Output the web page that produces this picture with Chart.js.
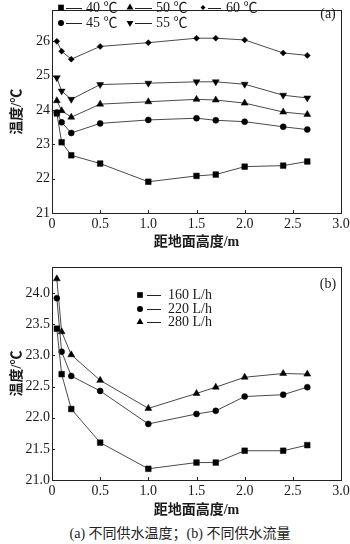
<!DOCTYPE html>
<html><head><meta charset="utf-8">
<script src="https://cdn.jsdelivr.net/npm/chart.js@4/dist/chart.umd.min.js"></script>
<style>
html,body{margin:0;padding:0;background:#fff;width:350px;height:544px;overflow:hidden;position:relative;}
#wa{position:absolute;left:0;top:0;width:350px;height:251px;}
#wb{position:absolute;left:0;top:255px;width:350px;height:264px;}
#cap{position:absolute;left:0;top:522px;width:360px;text-align:center;font:14px 'Liberation Serif','Noto Sans CJK SC';color:#222;white-space:nowrap;}
</style></head>
<body>
<div id="wa"><canvas id="ca"></canvas></div>
<div id="wb"><canvas id="cb"></canvas></div>
<div id="cap">(a) 不同供水温度；(b) 不同供水流量</div>
<script>
// ---- data ----
const X_HEIGHT = [0.05, 0.1, 0.2, 0.5, 1.0, 1.5, 1.7, 2.0, 2.4, 2.65];
const LABELS_A = ['40 ℃', '45 ℃', '50 ℃', '55 ℃', '60 ℃'];
const T40 = [23.90, 23.06, 22.68, 22.44, 21.91, 22.08, 22.12, 22.35, 22.38, 22.50];
const T45 = [23.93, 23.64, 23.33, 23.61, 23.71, 23.76, 23.70, 23.66, 23.51, 23.43];
const T50 = [24.27, 23.98, 23.79, 24.17, 24.24, 24.31, 24.29, 24.20, 23.94, 23.87];
const T55 = [24.94, 24.55, 24.31, 24.74, 24.78, 24.82, 24.82, 24.75, 24.43, 24.35];
const T60 = [26.00, 25.71, 25.48, 25.85, 25.96, 26.09, 26.09, 26.04, 25.66, 25.59];
const LABELS_B = ['160 L/h', '220 L/h', '280 L/h'];
const F160 = [23.43, 22.70, 22.14, 21.60, 21.18, 21.28, 21.28, 21.47, 21.47, 21.56];
const F220 = [23.92, 23.06, 22.67, 22.43, 21.90, 22.06, 22.11, 22.34, 22.37, 22.49];
const F280 = [24.23, 23.38, 23.01, 22.60, 22.15, 22.39, 22.49, 22.65, 22.71, 22.70];
const X_TICKS = [0, 0.5, 1.0, 1.5, 2.0, 2.5, 3.0];
const Y_TICKS_A = [21, 22, 23, 24, 25, 26];
const Y_TICKS_B = [21.0, 21.5, 22.0, 22.5, 23.0, 23.5, 24.0];
const X_TITLE = '距地面高度/m';
const Y_TITLE = '温度/℃';

const FONT = "'Liberation Serif', 'Noto Sans CJK SC', serif";
const INK = '#1a1a1a';
const LINE = '#4a4a4a';

function marker(ctx, style, x, y, r) {
  ctx.save();
  ctx.fillStyle = '#000';
  ctx.beginPath();
  if (style === 'rect') { const s = r * Math.SQRT1_2; ctx.rect(x - s, y - s, 2 * s, 2 * s); }
  else if (style === 'circle') { ctx.arc(x, y, r, 0, Math.PI * 2); }
  else if (style === 'triangle' || style === 'tridown') {
    const d = style === 'tridown' ? -1 : 1;
    const h = r * 1.5 / Math.sqrt(3) * 1.0;
    ctx.moveTo(x, y - d * r); ctx.lineTo(x - r * 0.866, y + d * r * 0.5); ctx.lineTo(x + r * 0.866, y + d * r * 0.5);
  }
  else if (style === 'rectRot') { ctx.moveTo(x, y - r); ctx.lineTo(x + r, y); ctx.lineTo(x, y + r); ctx.lineTo(x - r, y); }
  ctx.closePath(); ctx.fill();
  ctx.restore();
}

const framePlugin = {
  id: 'frame',
  afterDraw(chart, args, opts) {
    const ctx = chart.ctx, a = chart.chartArea;
    ctx.save();
    ctx.strokeStyle = '#222'; ctx.lineWidth = 1;
    ctx.strokeRect(Math.round(a.left) + 0.5, Math.round(a.top) + 0.5, Math.round(a.right - a.left), Math.round(a.bottom - a.top));
    const xs = chart.scales.x, ys = chart.scales.y;
    ctx.beginPath();
    xs.ticks.forEach(t => { const px = Math.round(xs.getPixelForValue(t.value)) + 0.5; ctx.moveTo(px, a.bottom); ctx.lineTo(px, a.bottom - 3); });
    ys.ticks.forEach(t => { const py = Math.round(ys.getPixelForValue(t.value)) + 0.5; ctx.moveTo(a.left, py); ctx.lineTo(a.left + 3, py); });
    ctx.stroke();
    // legend
    ctx.font = '14px ' + FONT; ctx.fillStyle = INK; ctx.textBaseline = 'middle';
    (opts.items || []).forEach((it, i) => {
      const ds = chart.data.datasets[it.ds];
      marker(ctx, it.style, it.mx, it.y, it.r);
      ctx.beginPath(); ctx.strokeStyle = '#222';
      ctx.moveTo(it.l0, Math.round(it.y) + 0.5); ctx.lineTo(it.l1, Math.round(it.y) + 0.5); ctx.stroke();
      ctx.fillText(ds.label, it.tx, it.y + 0.5);
    });
    if (opts.tag) { ctx.font = '14px ' + FONT; ctx.textAlign = 'center'; ctx.fillText(opts.tag.text, opts.tag.x, opts.tag.y); }
    ctx.restore();
  }
};

function ds(label, data, style, r, rot) {
  return {
    label, data: data.map((v, i) => ({ x: X_HEIGHT[i], y: v })),
    borderColor: LINE, borderWidth: 1, pointStyle: style, pointRadius: r, pointHoverRadius: r,
    pointRotation: rot || 0, pointBackgroundColor: '#000', pointBorderColor: '#000', pointBorderWidth: 0.5,
    tension: 0, fill: false, clip: false
  };
}

function makeOptions(yMin, yMax, yTicks, xHeight, padTop, legendItems, tag, yDec) {
  return {
    responsive: true, maintainAspectRatio: false, animation: false,
    layout: { padding: { left: 0, right: 9, top: padTop, bottom: 0 } },
    plugins: { legend: { display: false }, tooltip: { enabled: false }, frame: { items: legendItems, tag } },
    scales: {
      x: {
        type: 'linear', min: 0, max: 3,
        afterBuildTicks: s => { s.ticks = X_TICKS.map(v => ({ value: v })); },
        afterFit: s => { s.height = xHeight; s.paddingLeft = 0; s.paddingRight = 0; },
        grid: { display: false, drawTicks: false },
        border: { display: false },
        ticks: { color: INK, padding: 3, font: { family: FONT, size: 14 }, maxRotation: 0,
                 callback: v => v === 0 ? '0' : Number(v).toFixed(1) },
        title: { display: true, text: X_TITLE, color: INK, padding: 0, font: { family: FONT, size: 14, weight: 'bold' } }
      },
      y: {
        type: 'linear', min: yMin, max: yMax,
        afterBuildTicks: s => { s.ticks = yTicks.map(v => ({ value: v })); },
        afterFit: s => { s.width = 52; },
        grid: { display: false, drawTicks: false },
        border: { display: false },
        ticks: { color: INK, padding: 2, font: { family: FONT, size: 14 },
                 callback: v => Number(v).toFixed(yDec) },
        title: { display: true, text: Y_TITLE, color: INK, padding: { top: 9, bottom: 0 }, font: { family: FONT, size: 14, weight: 'bold' } }
      }
    }
  };
}

new Chart(document.getElementById('ca'), {
  type: 'line',
  data: { datasets: [
    ds(LABELS_A[0], T40, 'rect', 4),
    ds(LABELS_A[1], T45, 'circle', 3),
    ds(LABELS_A[2], T50, 'triangle', 4),
    ds(LABELS_A[3], T55, 'triangle', 4, 180),
    ds(LABELS_A[4], T60, 'rectRot', 3)
  ] },
  options: makeOptions(21, 26.9, Y_TICKS_A, 38, 2, [
    { ds: 0, style: 'rect', r: 4, mx: 61, y: 7.5, l0: 66, l1: 82, tx: 86 },
    { ds: 2, style: 'triangle', r: 4, mx: 130, y: 7.5, l0: 135, l1: 152, tx: 156 },
    { ds: 4, style: 'rectRot', r: 2.5, mx: 203, y: 7.5, l0: 208, l1: 221, tx: 226 },
    { ds: 1, style: 'circle', r: 3, mx: 61, y: 23, l0: 66, l1: 82, tx: 86 },
    { ds: 3, style: 'tridown', r: 4, mx: 130, y: 23, l0: 135, l1: 152, tx: 156 }
  ], { text: '(a)', x: 328, y: 14 }, 0),
  plugins: [framePlugin]
});

new Chart(document.getElementById('cb'), {
  type: 'line',
  data: { datasets: [
    ds(LABELS_B[0], F160, 'rect', 4),
    ds(LABELS_B[1], F220, 'circle', 3),
    ds(LABELS_B[2], F280, 'triangle', 4)
  ] },
  options: makeOptions(21.0, 24.42, Y_TICKS_B, 39, 12, [
    { ds: 0, style: 'rect', r: 4, mx: 140, y: 40, l0: 147, l1: 161, tx: 168 },
    { ds: 1, style: 'circle', r: 3, mx: 140, y: 54, l0: 147, l1: 161, tx: 168 },
    { ds: 2, style: 'triangle', r: 4, mx: 140, y: 67, l0: 147, l1: 161, tx: 168 }
  ], { text: '(b)', x: 328, y: 29 }, 1),
  plugins: [framePlugin]
});
</script>
</body></html>
